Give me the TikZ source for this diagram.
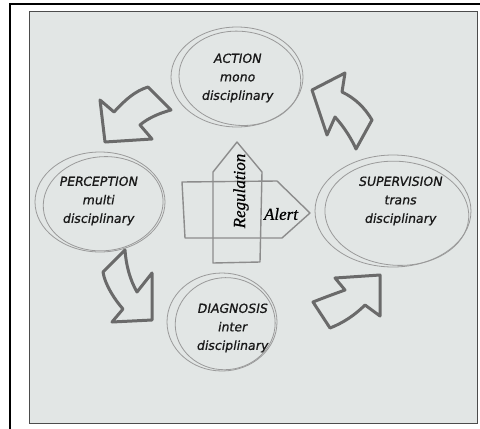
\documentclass[tikz,border=0pt]{standalone}
\usepackage{fontspec}
\newfontfamily\handfont[FakeBold=0.9,FakeSlant=0.18]{DejaVu Sans}
\newfontfamily\cursfont[FakeBold=0.6]{Liberation Serif}
\usetikzlibrary{shapes.geometric,calc}
\definecolor{bgc}{HTML}{E2E6E5}
\definecolor{rimc}{HTML}{9A9A9A}
\definecolor{arrc}{HTML}{6A6A6A}
\definecolor{boxc}{HTML}{8C8C8C}
\tikzset{
  lbl/.style={font=\handfont\fontsize{12.5}{18.5}\selectfont, align=center, text=black!90},
  rim/.style={draw=rimc, line width=0.8pt},
  bigarrow/.style={draw=arrc, line width=3pt, line join=round, line cap=round},
  centrearrow/.style={draw=boxc, line width=1.4pt, line join=round},
  hand/.style={font=\cursfont\itshape\fontsize{17}{17}\selectfont, text=black}
}
\begin{document}
\begin{tikzpicture}[x=1pt,y=-1pt]
\useasboundingbox (0,0) rectangle (480,429);
\fill[white] (0,0) rectangle (480,429);
% frame
\draw[black, line width=2.5pt] (10,429) -- (10,4) -- (480,4);
\draw[fill=bgc, draw=black!70, line width=1pt] (29,11) rectangle (477,423);

% ellipses (sketchy double)
\coordinate (ca) at (237,77);
\coordinate (cp) at (100,202);
\coordinate (cs) at (393,211);
\coordinate (cd) at (222,322);
\draw[rim] (ca) ellipse [x radius=66pt, y radius=50pt];
\draw[rim, rotate around={-6:(ca)}] ($(ca)+(3,1)$) ellipse [x radius=61pt, y radius=47pt];
\draw[rim] (cp) ellipse [x radius=65pt, y radius=50pt];
\draw[rim, rotate around={5:(cp)}] ($(cp)+(3,2)$) ellipse [x radius=60pt, y radius=47pt];
\draw[rim] (cs) ellipse [x radius=78pt, y radius=56pt];
\draw[rim, rotate around={-4:(cs)}] ($(cs)+(4,2)$) ellipse [x radius=72pt, y radius=52pt];
\draw[rim] (cd) ellipse [x radius=55pt, y radius=49pt];
\draw[rim, rotate around={6:(cd)}] ($(cd)+(3,2)$) ellipse [x radius=50pt, y radius=46pt];

% labels
\node[lbl] (action) at (237,78) {ACTION\\mono\\disciplinary};
\node[lbl] (perception) at (98,201) {PERCEPTION\\multi\\disciplinary};
\node[lbl] (supervision) at (400,201) {SUPERVISION\\trans\\disciplinary};
\node[lbl] (diagnosis) at (232,328) {DIAGNOSIS\\inter\\disciplinary};

% centre arrows
\draw[centrearrow] (182,182) -- (277,181) -- (310,213) -- (282,238) -- (185,238) -- cycle;
\draw[centrearrow] (213,263) -- (213,172) -- (237,142) -- (262,172) -- (260,262) -- cycle;
\node[hand, rotate=90] (regulation) at (241,191) {Regulation};
\node[hand] (alert) at (281,214) {Alert};

% curved arrows
\draw[bigarrow] (100,100) -- (114,112) .. controls (125,100) and (135,91) .. (148,87)
  -- (171,110) .. controls (160,113) and (148,118) .. (140,125)
  -- (152,139) -- (105,142) -- cycle;
\draw[bigarrow] (345,73) -- (312,90) -- (327,135) -- (335,117)
  .. controls (345,128) and (352,140) .. (356,149)
  -- (372,120) .. controls (365,108) and (355,98) .. (342,92) -- cycle;
\draw[bigarrow] (125,250) -- (103,272) .. controls (105,285) and (115,300) .. (123,309)
  -- (112,322) -- (152,320) -- (152,273) -- (137,292)
  .. controls (130,280) and (126,265) .. (125,250) -- cycle;
\draw[bigarrow] (313,302) .. controls (323,298) and (334,294) .. (345,290)
  -- (335,278) -- (380,275) -- (380,316) -- (365,305)
  .. controls (355,315) and (343,323) .. (330,328) -- cycle;
\end{tikzpicture}
\end{document}
